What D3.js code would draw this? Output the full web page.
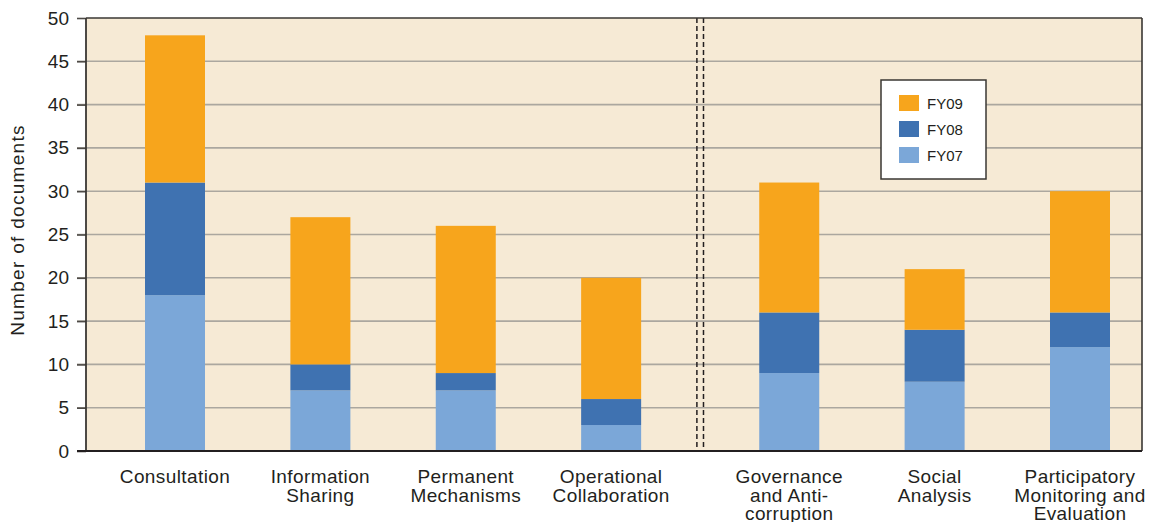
<!DOCTYPE html>
<html>
<head>
<meta charset="utf-8">
<script src="https://cdn.jsdelivr.net/npm/d3@7"></script>
<style>
  body { margin: 0; background: #fff; }
  text { font-family: "Liberation Sans", Arial, sans-serif; fill: #231f20; }
</style>
</head>
<body>
<div id="chart"></div>
<script>
// categories (label lines) and counts per fiscal year
var categories = [
  ["Consultation"],
  ["Information", "Sharing"],
  ["Permanent", "Mechanisms"],
  ["Operational", "Collaboration"],
  ["Governance", "and Anti-", "corruption"],
  ["Social", "Analysis"],
  ["Participatory", "Monitoring and", "Evaluation"]
];
var fy07 = [18, 7, 7, 3, 9, 8, 12];
var fy08 = [13, 3, 2, 3, 7, 6, 4];
var fy09 = [17, 17, 17, 14, 15, 7, 14];
var seriesNames = ["FY07", "FY08", "FY09"];
var yTicks = [0, 5, 10, 15, 20, 25, 30, 35, 40, 45, 50];
var leftGroupSize = 4; // bars left of the dashed divider

const w = 1161, h = 522;
const pLeft = 86, pRight = 1142, pTop = 18, pBottom = 451;
const barW = 60;
const gap = 0.225; // extra slot space around the divider
const colors = { FY07: "#7ba7d8", FY08: "#3f72b1", FY09: "#f7a51c" };

var data = categories.map(function(c, i) {
  return { name: c, FY07: fy07[i], FY08: fy08[i], FY09: fy09[i], slot: i + (i >= leftGroupSize ? gap : 0) };
});

const xScale = d3.scaleLinear()
  .domain([0, categories.length - 1 + gap])
  .range([175, 1080]);

const yScale = d3.scaleLinear()
  .domain([0, 50])
  .range([pBottom, pTop]);

const svg = d3.select("#chart").append("svg")
  .attr("width", w)
  .attr("height", h);

// plot background
svg.append("rect")
  .attr("x", pLeft).attr("y", pTop)
  .attr("width", pRight - pLeft).attr("height", pBottom - pTop)
  .attr("fill", "#f6ead5");

// gridlines
svg.append("g").selectAll("line")
  .data(yTicks.filter(d => d > 0 && d < 50))
  .enter().append("line")
  .attr("x1", 77).attr("x2", pRight)
  .attr("y1", d => yScale(d)).attr("y2", d => yScale(d))
  .attr("stroke", "#aba79f")
  .attr("stroke-width", 1.6);

// y axis tick labels
const yAxis = d3.axisLeft(yScale).tickValues(yTicks).tickSize(9).tickPadding(8);
const gy = svg.append("g")
  .attr("transform", "translate(" + pLeft + ",0)")
  .call(yAxis);
gy.select(".domain").remove();
gy.selectAll(".tick line").attr("stroke", "#4d4a46").attr("stroke-width", 1.6);
gy.selectAll(".tick text")
  .style("font-size", "19px")
  .style("font-family", "'Liberation Sans', Arial, sans-serif")
  .attr("fill", "#231f20");

// stacked bars
const stack = d3.stack().keys(seriesNames);
const layers = stack(data);

svg.append("g").selectAll("g")
  .data(layers)
  .enter().append("g")
  .attr("fill", d => colors[d.key])
  .selectAll("rect")
  .data(d => d)
  .enter().append("rect")
  .attr("x", d => xScale(d.data.slot) - barW / 2)
  .attr("width", barW)
  .attr("y", d => yScale(d[1]))
  .attr("height", d => yScale(d[0]) - yScale(d[1]));

// dashed divider
const divX = xScale(leftGroupSize - 1 + (1 + gap) / 2);
[-3.3, 3.3].forEach(function(off) {
  svg.append("line")
    .attr("x1", divX + off).attr("x2", divX + off)
    .attr("y1", pTop).attr("y2", pBottom)
    .attr("stroke", "#231f20")
    .attr("stroke-width", 1.5)
    .attr("stroke-dasharray", "5,3");
});

// frame
svg.append("line").attr("x1", pLeft).attr("x2", pRight).attr("y1", pTop).attr("y2", pTop)
  .attr("stroke", "#3a3733").attr("stroke-width", 1.6);
svg.append("line").attr("x1", pRight).attr("x2", pRight).attr("y1", pTop).attr("y2", pBottom)
  .attr("stroke", "#3a3733").attr("stroke-width", 1.6);
svg.append("line").attr("x1", pLeft).attr("x2", pLeft).attr("y1", pTop).attr("y2", pBottom)
  .attr("stroke", "#3a3733").attr("stroke-width", 1.8);
svg.append("line").attr("x1", 77).attr("x2", pRight).attr("y1", pBottom).attr("y2", pBottom)
  .attr("stroke", "#231f20").attr("stroke-width", 2);

// category labels
svg.append("g").selectAll("text")
  .data(data)
  .enter().append("text")
  .attr("x", d => xScale(d.slot))
  .attr("y", 483)
  .attr("text-anchor", "middle")
  .style("font-size", "19px")
  .style("letter-spacing", "0.4px")
  .each(function(d) {
    var t = d3.select(this);
    d.name.forEach(function(line, i) {
      t.append("tspan")
        .attr("x", xScale(d.slot))
        .attr("dy", i === 0 ? 0 : 18.5)
        .text(line);
    });
  });

// y axis title
svg.append("text")
  .attr("transform", "translate(24," + 230 + ") rotate(-90)")
  .attr("text-anchor", "middle")
  .style("font-size", "19px")
  .style("letter-spacing", "1.3px")
  .text("Number of documents");

// legend
const legend = svg.append("g").attr("transform", "translate(881,80)");
legend.append("rect")
  .attr("width", 105).attr("height", 99)
  .attr("fill", "#fff")
  .attr("stroke", "#3a3733").attr("stroke-width", 1.5);
seriesNames.slice().reverse().forEach(function(k, i) {
  legend.append("rect")
    .attr("x", 18).attr("y", 15 + i * 26)
    .attr("width", 20).attr("height", 16)
    .attr("fill", colors[k]);
  legend.append("text")
    .attr("x", 46).attr("y", 29 + i * 26)
    .style("font-size", "15px")
    .text(k);
});
</script>
</body>
</html>
